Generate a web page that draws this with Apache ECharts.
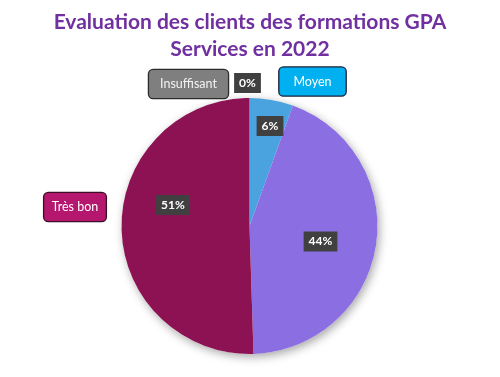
<!DOCTYPE html>
<html>
<head>
<meta charset="utf-8">
<script src="https://cdn.jsdelivr.net/npm/echarts@6/dist/echarts.min.js"></script>
<style>html,body{margin:0;padding:0;background:#fff;}#c{width:500px;height:377px;}</style>
</head>
<body>
<div id="c"></div>
<script>
// Data
const categories = ['Insuffisant', 'Moyen', 'Bon', 'Très bon'];
const values = [0, 5.5, 44, 50.5];           // percent of answers
const showName = [true, true, false, true];  // category labels shown in the reference

// Styles
const sliceColors = ['#7f7f7f', '#4aa2de', '#8b6fe2', '#8c1254'];
const nameBoxStyles = [
  {bg: '#7f7f7f', border: '#2b2b2b', color: '#f2f2f2', pad: [8, 11, 7, 11]},
  {bg: '#00b0f0', border: '#16213a', color: '#ffffff', pad: [8, 14, 7, 14]},
  null,
  {bg: '#b5176f', border: '#3b0d26', color: '#ffffff', pad: [8, 14, 7, 14]}
];
const pctPos = [[247.5, 83], [270, 126], [320.5, 241.5], [173, 205]];
const namePos = [[188.5, 84], [312.5, 81.5], null, [75, 207]];
const FONT = 'Lato';

const chart = echarts.init(document.getElementById('c'), null, {renderer: 'canvas'});

const pieData = categories.map((n, i) => ({
  name: n, value: values[i], itemStyle: {color: sliceColors[i]}
}));

const nameData = categories.map((n, i) => ({
  name: n, value: values[i],
  label: showName[i] ? {
    show: true,
    backgroundColor: nameBoxStyles[i].bg,
    borderColor: nameBoxStyles[i].border,
    color: nameBoxStyles[i].color,
    padding: nameBoxStyles[i].pad
  } : {show: false}
}));

chart.setOption({
  animation: false,
  backgroundColor: '#ffffff',
  title: {
    text: 'Evaluation des clients des formations GPA\nServices en 2022',
    left: 'center',
    top: 4,
    textStyle: {
      fontFamily: FONT, fontSize: 21, fontWeight: 'bold', color: '#7030a0', lineHeight: 27
    }
  },
  series: [
    {
      type: 'pie', silent: true, center: [249.5, 226], radius: 128,
      data: [{value: 1, itemStyle: {color: '#ffffff'}}],
      itemStyle: {shadowBlur: 10, shadowColor: 'rgba(0,0,0,0.35)', shadowOffsetX: 2, shadowOffsetY: 3},
      label: {show: false}, labelLine: {show: false}, z: 1
    },
    {
      type: 'pie', center: [249.5, 226], radius: 128, startAngle: 90, clockwise: true,
      data: pieData, z: 2,
      label: {
        show: true,
        formatter: p => Math.round(p.value) + '%',
        fontFamily: FONT, fontSize: 12, fontWeight: 'bold', color: '#ffffff',
        backgroundColor: '#404040', padding: [4, 5, 4, 5], overflow: 'none'
      },
      labelLine: {show: false},
      labelLayout: p => ({x: pctPos[p.dataIndex][0], y: pctPos[p.dataIndex][1], align: 'center', verticalAlign: 'middle'})
    },
    {
      type: 'pie', silent: true, center: [249.5, 226], radius: 128, startAngle: 90, clockwise: true,
      data: nameData, z: 3,
      itemStyle: {color: 'rgba(0,0,0,0)'},
      label: {
        formatter: p => p.name, overflow: 'none',
        fontFamily: FONT, fontSize: 12.5, borderWidth: 1.3, borderRadius: 4
      },
      labelLine: {show: false},
      labelLayout: p => namePos[p.dataIndex] ? {x: namePos[p.dataIndex][0], y: namePos[p.dataIndex][1], align: 'center', verticalAlign: 'middle'} : {}
    }
  ]
});
</script>
</body>
</html>
